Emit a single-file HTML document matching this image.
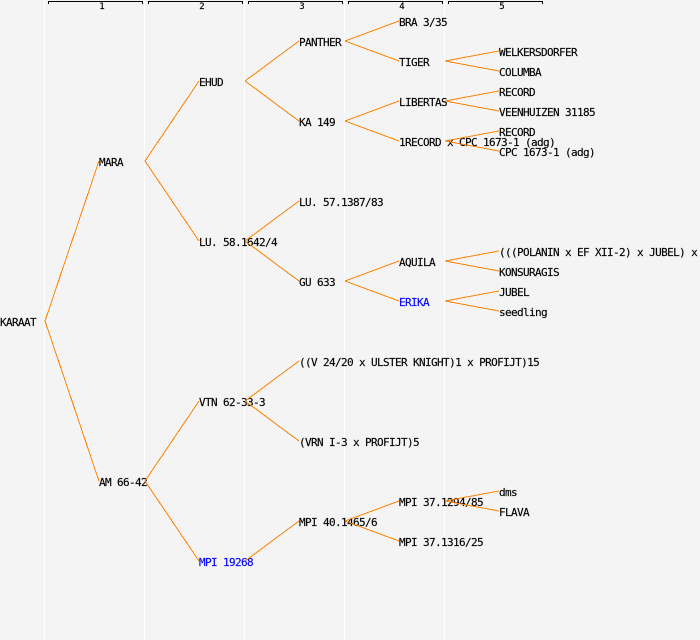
<!DOCTYPE html>
<html><head><meta charset="utf-8"><style>
html,body{margin:0;padding:0;background:#f4f4f4;width:700px;height:640px;overflow:hidden}
svg{display:block;position:absolute;left:0;top:0}
text{font-family:"DejaVu Sans Mono","Liberation Mono",monospace;font-size:11px;letter-spacing:-0.62px;fill:#000;stroke:#000;stroke-width:0.15px}
.b{fill:#0000ff;stroke:#0000ff}
.h{font-size:9px;letter-spacing:0;text-anchor:middle}
.o line{stroke:#ff8000;stroke-width:1;shape-rendering:crispEdges}
.w line{stroke:#fff;stroke-width:1;shape-rendering:crispEdges}
.k{fill:none;stroke:#000;stroke-width:1;shape-rendering:crispEdges}
</style></head><body>
<svg width="700" height="640" viewBox="0 0 700 640" xmlns="http://www.w3.org/2000/svg">
<g class="w">
<line x1="44.5" y1="0" x2="44.5" y2="640"/><line x1="144.5" y1="0" x2="144.5" y2="640"/><line x1="244.5" y1="0" x2="244.5" y2="640"/><line x1="344.5" y1="0" x2="344.5" y2="640"/><line x1="444.5" y1="0" x2="444.5" y2="640"/>
</g>
<path class="k" d="M48.5 4V1.5H142.5V4M148.5 4V1.5H242.5V4M248.5 4V1.5H342.5V4M348.5 4V1.5H442.5V4M448.5 4V1.5H542.5V4"/>
<text class="h" x="102" y="9">1</text><text class="h" x="202" y="9">2</text><text class="h" x="302" y="9">3</text><text class="h" x="402" y="9">4</text><text class="h" x="502" y="9">5</text>
<text x="0" y="326">KARAAT</text>
<text x="99" y="166">MARA</text><text x="99" y="486">AM 66-42</text>
<text x="199" y="86">EHUD</text><text x="199" y="246">LU. 58.1642/4</text><text x="199" y="406">VTN 62-33-3</text><text class="b" x="199" y="566">MPI 19268</text>
<text x="299" y="46">PANTHER</text><text x="299" y="126">KA 149</text><text x="299" y="206">LU. 57.1387/83</text><text x="299" y="286">GU 633</text><text x="299" y="366">((V 24/20 x ULSTER KNIGHT)1 x PROFIJT)15</text><text x="299" y="446">(VRN I-3 x PROFIJT)5</text><text x="299" y="526">MPI 40.1465/6</text>
<text x="399" y="26">BRA 3/35</text><text x="399" y="66">TIGER</text><text x="399" y="106">LIBERTAS</text><text x="399" y="146">1RECORD x CPC 1673-1 (adg)</text><text x="399" y="266">AQUILA</text><text class="b" x="399" y="306">ERIKA</text><text x="399" y="506">MPI 37.1294/85</text><text x="399" y="546">MPI 37.1316/25</text>
<text x="499" y="56">WELKERSDORFER</text><text x="499" y="76">COLUMBA</text><text x="499" y="96">RECORD</text><text x="499" y="116">VEENHUIZEN 31185</text><text x="499" y="136">RECORD</text><text x="499" y="156">CPC 1673-1 (adg)</text><text x="499" y="256">(((POLANIN x EF XII-2) x JUBEL) x</text><text x="499" y="276">KONSURAGIS</text><text x="499" y="296">JUBEL</text><text x="499" y="316">seedling</text><text x="499" y="496">dms</text><text x="499" y="516">FLAVA</text>
<g class="o">
<line x1="45" y1="321" x2="99" y2="161"/><line x1="45" y1="321" x2="99" y2="481"/>
<line x1="145" y1="161" x2="199" y2="81"/><line x1="145" y1="161" x2="199" y2="241"/>
<line x1="145" y1="481" x2="199" y2="401"/><line x1="145" y1="481" x2="199" y2="561"/>
<line x1="245" y1="81" x2="299" y2="41"/><line x1="245" y1="81" x2="299" y2="121"/>
<line x1="245" y1="241" x2="299" y2="201"/><line x1="245" y1="241" x2="299" y2="281"/>
<line x1="245" y1="401" x2="299" y2="361"/><line x1="245" y1="401" x2="299" y2="441"/>
<line x1="245" y1="561" x2="299" y2="521"/>
<line x1="345" y1="41" x2="399" y2="21"/><line x1="345" y1="41" x2="399" y2="61"/>
<line x1="345" y1="121" x2="399" y2="101"/><line x1="345" y1="121" x2="399" y2="141"/>
<line x1="345" y1="281" x2="399" y2="261"/><line x1="345" y1="281" x2="399" y2="301"/>
<line x1="345" y1="521" x2="399" y2="501"/><line x1="345" y1="521" x2="399" y2="541"/>
<line x1="445" y1="61" x2="499" y2="51"/><line x1="445" y1="61" x2="499" y2="71"/>
<line x1="445" y1="101" x2="499" y2="91"/><line x1="445" y1="101" x2="499" y2="111"/>
<line x1="445" y1="141" x2="499" y2="131"/><line x1="445" y1="141" x2="499" y2="151"/>
<line x1="445" y1="261" x2="499" y2="251"/><line x1="445" y1="261" x2="499" y2="271"/>
<line x1="445" y1="301" x2="499" y2="291"/><line x1="445" y1="301" x2="499" y2="311"/>
<line x1="445" y1="501" x2="499" y2="491"/><line x1="445" y1="501" x2="499" y2="511"/>
</g>
</svg>
</body></html>
